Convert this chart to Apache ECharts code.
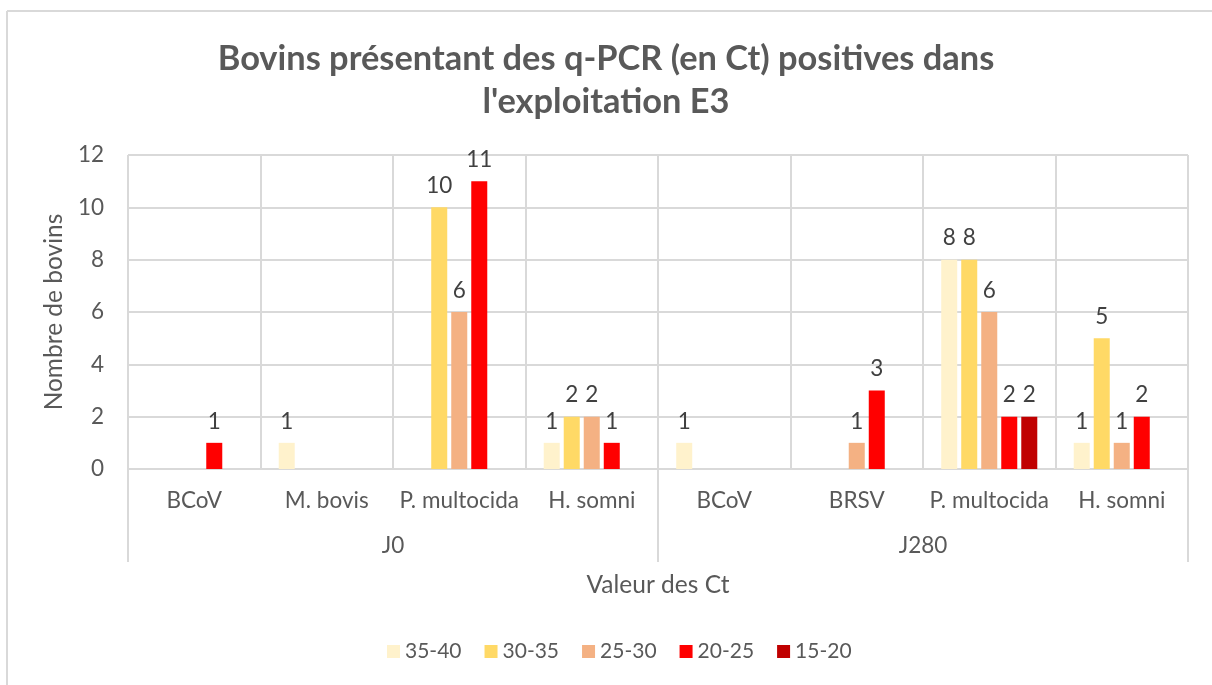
<!DOCTYPE html>
<html>
<head>
<meta charset="utf-8">
<script src="https://cdn.jsdelivr.net/npm/echarts@6/dist/echarts.min.js"></script>
<style>
  html, body { margin: 0; padding: 0; background: #ffffff; }
  #main { width: 1212px; height: 685px; }
</style>
</head>
<body>
<div id="main"></div>
<script>
// categories (first level) and their groups (second level)
const categories = ["BCoV", "M. bovis", "P. multocida", "H. somni", "BCoV", "BRSV", "P. multocida", "H. somni"];
const groups = ["J0", "J280"];
const seriesNames = ["35-40", "30-35", "25-30", "20-25", "15-20"];

// values per Ct range, null = no bar
const ct3540 = [null, 1, null, 1, 1, null, 8, 1];
const ct3035 = [null, null, 10, 2, null, null, 8, 5];
const ct2530 = [null, null, 6, 2, null, 1, 6, 1];
const ct2025 = [1, null, 11, 1, null, 3, 2, 2];
const ct1520 = [null, null, null, null, null, null, 2, null];

const yTicks = { min: 0, max: 12, interval: 2 };

const colors = ["#FFF2CC", "#FFD966", "#F4B183", "#FF0000", "#C00000"];
const seriesData = [ct3540, ct3035, ct2530, ct2025, ct1520];

const font = "Lato, 'Open Sans', sans-serif";
const textGrey = "#595959";
const lineGrey = "#d9d9d9";

const myChart = echarts.init(document.getElementById("main"));

myChart.setOption({
  animation: false,
  textStyle: { fontFamily: font },
  title: {
    text: "Bovins présentant des q-PCR (en Ct) positives dans\nl'exploitation E3",
    left: "center",
    top: 32,
    textStyle: {
      fontFamily: font,
      fontSize: 34.4,
      fontWeight: "bold",
      color: textGrey,
      lineHeight: 43
    }
  },
  legend: {
    bottom: 18,
    left: 382,
    icon: "rect",
    itemWidth: 13,
    itemHeight: 13,
    itemGap: 23,
    textStyle: { fontFamily: font, fontSize: 21, color: textGrey },
    data: seriesNames
  },
  grid: {
    left: 128,
    right: 24,
    top: 155,
    bottom: 216,
    show: true,
    borderColor: lineGrey,
    borderWidth: 1
  },
  xAxis: [
    {
      type: "category",
      data: categories,
      axisLine: { show: true, lineStyle: { color: lineGrey, width: 2 } },
      axisTick: { show: false },
      splitLine: { show: true, lineStyle: { color: lineGrey, width: 2 } },
      axisLabel: { color: textGrey, fontSize: 22.5, margin: 20, fontFamily: font, interval: 0 },
      name: "Valeur des Ct",
      nameLocation: "middle",
      nameGap: 104,
      nameTextStyle: { color: textGrey, fontSize: 24.5, fontFamily: font }
    },
    {
      type: "category",
      data: groups,
      position: "bottom",
      axisLine: { show: false },
      axisTick: { show: true, length: 93, lineStyle: { color: lineGrey, width: 2 } },
      axisLabel: { color: textGrey, fontSize: 22.5, margin: 65, fontFamily: font }
    }
  ],
  yAxis: {
    type: "value",
    min: yTicks.min,
    max: yTicks.max,
    interval: yTicks.interval,
    axisLine: { show: false },
    axisTick: { show: false },
    splitLine: { lineStyle: { color: lineGrey, width: 2 } },
    axisLabel: { color: textGrey, fontSize: 22.5, margin: 24, fontFamily: font },
    name: "Nombre de bovins",
    nameLocation: "middle",
    nameGap: 56,
    nameTextStyle: { color: textGrey, fontSize: 24.5, fontFamily: font }
  },
  graphic: [
    { type: "line", shape: { x1: 7, y1: 11, x2: 1212, y2: 11 }, style: { stroke: lineGrey, lineWidth: 2 } },
    { type: "line", shape: { x1: 7, y1: 11, x2: 7, y2: 685 }, style: { stroke: lineGrey, lineWidth: 2 } }
  ],
  series: seriesNames.map((name, i) => ({
    name: name,
    type: "bar",
    xAxisIndex: 0,
    barGap: "25%",
    barCategoryGap: "27.5%",
    itemStyle: { color: colors[i] },
    label: {
      show: true,
      position: "top",
      distance: 10,
      fontSize: 22.5,
      color: "#404040",
      fontFamily: font
    },
    data: seriesData[i]
  }))
});
</script>
</body>
</html>
